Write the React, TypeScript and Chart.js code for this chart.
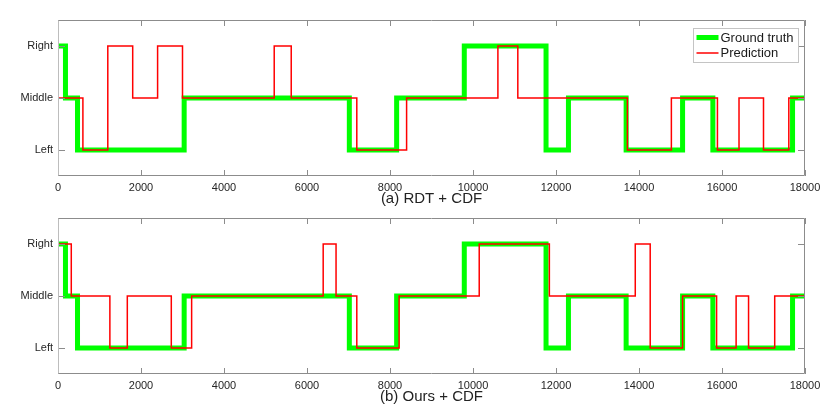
import { useEffect, useRef } from "react"
import { Chart, registerables } from "chart.js"

Chart.register(...registerables)

// x axis (sample index) and the three direction states
const xMax = 18000
const xStep = 2000
const stateLabels = ["", "Left", "Middle", "Right"]
const stateValues = [1, 2, 3]

// ground truth: sample where each segment starts, and its state
const truthChanges = [0, 180, 470, 3040, 7020, 8160, 9790, 11760, 12300, 13690, 15050, 15780, 17700]
const truthStates = [3, 2, 1, 2, 1, 2, 3, 1, 2, 1, 2, 1, 2]

// (a) RDT + CDF prediction
const rdtChanges = [0, 600, 1200, 1800, 2400, 3000, 5210, 5620, 7200, 8400, 10600, 11080, 13720, 14780, 15890, 16410, 17000, 17610]
const rdtStates = [2, 1, 3, 2, 3, 2, 3, 2, 1, 2, 3, 2, 1, 2, 1, 2, 1, 2]

// (b) Ours + CDF prediction
const oursChanges = [0, 320, 1250, 1670, 2730, 3220, 6390, 6700, 7200, 8220, 10150, 11840, 13910, 14270, 15050, 15870, 16340, 16640, 17270]
const oursStates = [3, 2, 1, 2, 1, 2, 3, 2, 1, 2, 3, 2, 3, 1, 2, 1, 2, 1, 2]

const FONT = "'Liberation Sans', Arial, Helvetica, sans-serif"

function toSteps(changes: number[], states: number[]) {
  const pts = changes.map((x, i) => ({ x, y: states[i] }))
  pts.push({ x: xMax, y: states[states.length - 1] })
  return pts
}

// matlab-like box with inward ticks
const framePlugin = {
  id: "frame",
  afterDatasetsDraw(chart: any) {
    const { ctx, chartArea: a, scales } = chart
    const line = (x1: number, y1: number, x2: number, y2: number) => {
      ctx.beginPath()
      ctx.moveTo(x1, y1)
      ctx.lineTo(x2, y2)
      ctx.stroke()
    }
    ctx.save()
    ctx.lineWidth = 1
    ctx.strokeStyle = "#8c8c8c"
    scales.x.ticks.forEach((t: any) => {
      const px = Math.round(scales.x.getPixelForValue(t.value)) + 0.5
      line(px, a.top, px, a.top + 6)
      line(px, a.bottom, px, a.bottom - 6)
    })
    scales.y.ticks.forEach((t: any) => {
      const py = Math.round(scales.y.getPixelForValue(t.value)) + 0.5
      line(a.left, py, a.left + 7, py)
      line(a.right, py, a.right - 7, py)
    })
    const l = Math.round(a.left) + 0.5
    const r = Math.round(a.right) - 0.5
    const tp = Math.round(a.top) + 0.5
    const b = Math.round(a.bottom) - 0.5
    line(l, tp, r, tp)
    line(r, tp, r, b)
    line(l, b, r, b)
    ctx.strokeStyle = "#bdbdbd"
    line(l, tp, l, b)
    ctx.restore()
  },
}

// legend box in the upper right corner of the plot area
const boxLegendPlugin = {
  id: "boxLegend",
  afterDraw(chart: any, _args: any, opts: any) {
    if (!opts || !opts.show) return
    const { ctx, chartArea: a } = chart
    const sets = chart.data.datasets
    ctx.save()
    ctx.font = `13px ${FONT}`
    const textW = Math.max(...sets.map((d: any) => ctx.measureText(d.label).width))
    const w = Math.round(3 + 23 + 2 + textW + 4)
    const h = 34
    const x0 = Math.round(a.right - 7 - w) + 0.5
    const y0 = Math.round(a.top + 8) + 0.5
    ctx.fillStyle = "#ffffff"
    ctx.fillRect(x0, y0, w, h)
    ctx.strokeStyle = "#c4c4c4"
    ctx.lineWidth = 1
    ctx.strokeRect(x0, y0, w, h)
    sets.forEach((d: any, i: number) => {
      const cy = y0 + 9 + i * 15.5
      ctx.strokeStyle = d.borderColor
      ctx.lineWidth = d.borderWidth
      ctx.beginPath()
      ctx.moveTo(x0 + 3, cy)
      ctx.lineTo(x0 + 25, cy)
      ctx.stroke()
      ctx.fillStyle = "#1a1a1a"
      ctx.textBaseline = "middle"
      ctx.textAlign = "left"
      ctx.fillText(d.label, x0 + 27, cy + 0.5)
    })
    ctx.restore()
  },
}

function StepPanel({ caption, changes, states, showLegend, top }: {
  caption: string
  changes: number[]
  states: number[]
  showLegend: boolean
  top: number
}) {
  const canvasRef = useRef<HTMLCanvasElement>(null)
  const chartInstance = useRef<Chart | null>(null)

  useEffect(() => {
    if (!canvasRef.current) return
    if (chartInstance.current) chartInstance.current.destroy()

    chartInstance.current = new Chart(canvasRef.current, {
      type: "line",
      data: {
        datasets: [
          {
            label: "Ground truth",
            data: toSteps(truthChanges, truthStates),
            borderColor: "#00ff00",
            borderWidth: 5,
            stepped: true,
            pointRadius: 0,
            borderJoinStyle: "miter",
            order: 1,
          },
          {
            label: "Prediction",
            data: toSteps(changes, states),
            borderColor: "#ff0000",
            borderWidth: 1.5,
            stepped: true,
            pointRadius: 0,
            borderJoinStyle: "miter",
            order: 0,
          },
        ],
      },
      options: {
        responsive: true,
        maintainAspectRatio: false,
        animation: false,
        layout: { padding: { top: 20, right: 25, left: 0, bottom: 0 } },
        scales: {
          x: {
            type: "linear",
            min: 0,
            max: xMax,
            grid: { display: false, drawTicks: false, tickLength: 0 },
            border: { display: false },
            ticks: {
              stepSize: xStep,
              autoSkip: false,
              maxRotation: 0,
              padding: 5,
              color: "#262626",
              font: { family: FONT, size: 11 },
              callback: (v: any) => String(v),
            },
            title: {
              display: true,
              text: caption,
              color: "#222222",
              padding: 0,
              font: { family: FONT, size: 15 },
            },
            afterFit: (s: any) => {
              s.height = 32
            },
          },
          y: {
            min: 0.5,
            max: 3.5,
            grid: { display: false, drawTicks: false, tickLength: 0 },
            border: { display: false },
            afterBuildTicks: (s: any) => {
              s.ticks = stateValues.map((v) => ({ value: v }))
            },
            ticks: {
              padding: 5,
              color: "#262626",
              font: { family: FONT, size: 11 },
              callback: (v: any) => stateLabels[v] ?? "",
            },
            afterFit: (s: any) => {
              s.width = 58
            },
          },
        },
        plugins: {
          legend: { display: false },
          tooltip: { enabled: false },
          boxLegend: { show: showLegend },
        } as any,
      },
      plugins: [framePlugin, boxLegendPlugin],
    })

    return () => {
      if (chartInstance.current) {
        chartInstance.current.destroy()
        chartInstance.current = null
      }
    }
  }, [caption, changes, states, showLegend])

  return (
    <div style={{ position: "absolute", left: 0, top, width: 830, height: 208 }}>
      <canvas ref={canvasRef} aria-label={caption} role="img"></canvas>
    </div>
  )
}

export default function App() {
  return (
    <div style={{ position: "fixed", left: 0, top: 0, width: 830, height: 415, background: "#ffffff" }}>
      <StepPanel caption="(a) RDT + CDF" changes={rdtChanges} states={rdtStates} showLegend={true} top={0} />
      <StepPanel caption="(b) Ours + CDF" changes={oursChanges} states={oursStates} showLegend={false} top={198} />
    </div>
  )
}
